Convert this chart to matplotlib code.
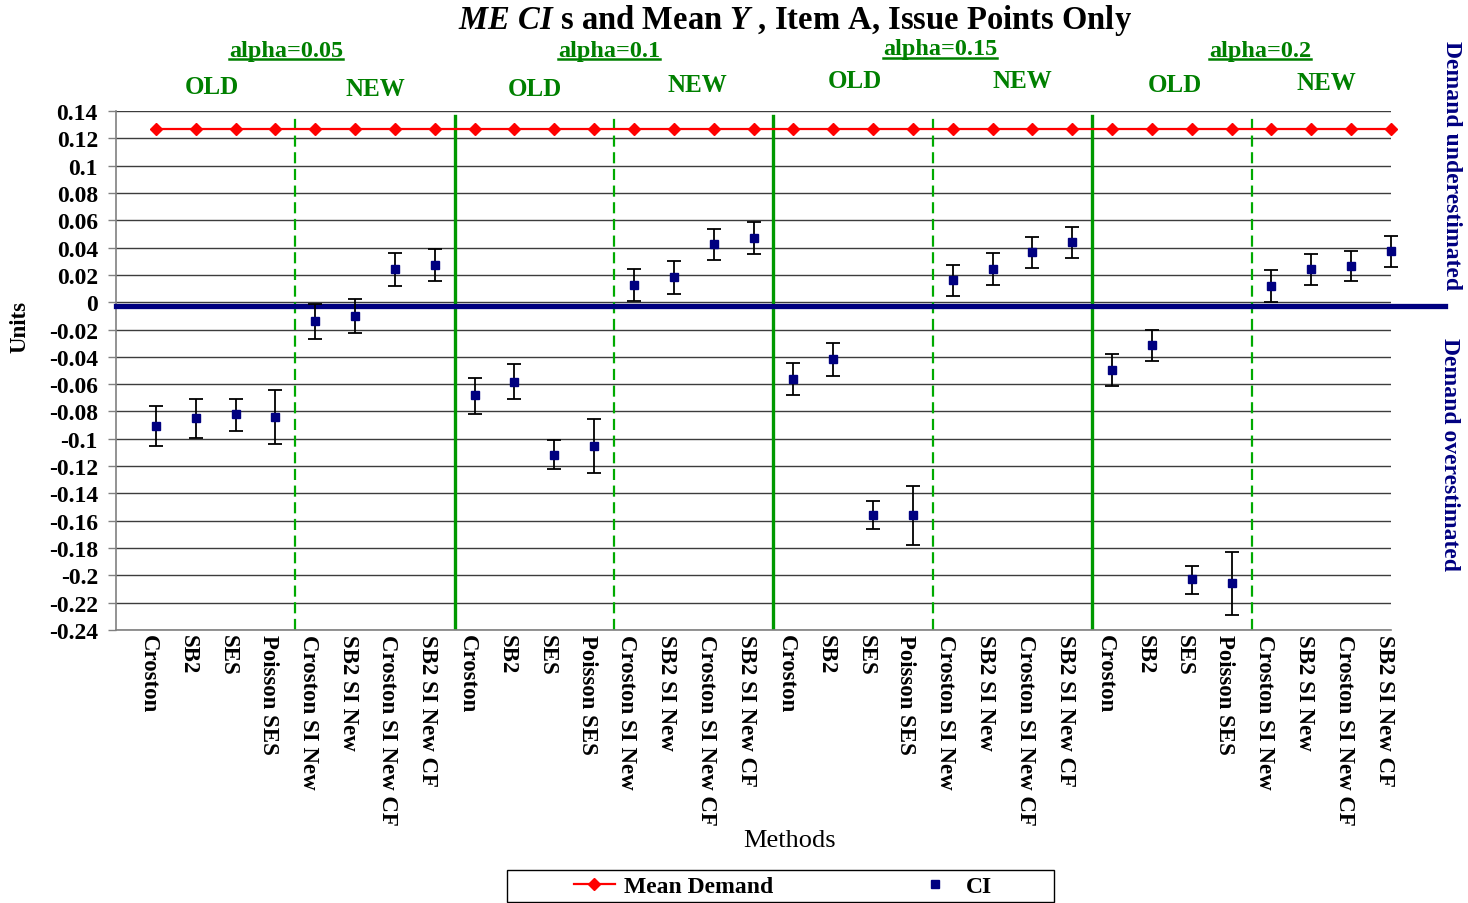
import matplotlib
matplotlib.use("Agg")
import matplotlib.pyplot as plt
from matplotlib.lines import Line2D
from matplotlib.patches import Rectangle
from matplotlib.transforms import ScaledTranslation
import numpy as np

# ---------------- data ----------------
methods = ["Croston", "SB2", "SES", "Poisson SES",
           "Croston SI New", "SB2 SI New", "Croston SI New CF", "SB2 SI New CF"] * 4
alpha_labels = ["alpha=0.05", "alpha=0.1", "alpha=0.15", "alpha=0.2"]
group_labels = ["OLD", "NEW"] * 4

mean_demand = [0.127] * 32

ci_mid = [-0.0907, -0.0851, -0.0822, -0.0839, -0.0139, -0.0102, 0.0244, 0.0273,
          -0.0683, -0.0583, -0.1117, -0.1054, 0.0127, 0.0185, 0.0427, 0.0473,
          -0.0559, -0.0417, -0.1559, -0.1556, 0.0159, 0.0246, 0.0368, 0.0441,
          -0.0495, -0.0312, -0.2029, -0.2059, 0.0120, 0.0241, 0.0266, 0.0376]
ci_low = [-0.1051, -0.0995, -0.0944, -0.1037, -0.0268, -0.0229, 0.0120, 0.0156,
          -0.0815, -0.0710, -0.1224, -0.1251, 0.0007, 0.0063, 0.0310, 0.0356,
          -0.0683, -0.0539, -0.1663, -0.1776, 0.0044, 0.0129, 0.0254, 0.0327,
          -0.0612, -0.0429, -0.2134, -0.2293, 0.0005, 0.0124, 0.0154, 0.0261]
ci_high = [-0.0763, -0.0710, -0.0707, -0.0644, -0.0010, 0.0024, 0.0360, 0.0390,
           -0.0556, -0.0456, -0.1012, -0.0856, 0.0246, 0.0305, 0.0539, 0.0585,
           -0.0444, -0.0302, -0.1456, -0.1344, 0.0273, 0.0363, 0.0480, 0.0551,
           -0.0380, -0.0200, -0.1932, -0.1827, 0.0234, 0.0354, 0.0378, 0.0485]

y_ticks = [0.14, 0.12, 0.1, 0.08, 0.06, 0.04, 0.02, 0, -0.02, -0.04, -0.06, -0.08,
           -0.1, -0.12, -0.14, -0.16, -0.18, -0.2, -0.22, -0.24]
y_tick_labels = ["0.14", "0.12", "0.1", "0.08", "0.06", "0.04", "0.02", "0",
                 "-0.02", "-0.04", "-0.06", "-0.08", "-0.1", "-0.12", "-0.14",
                 "-0.16", "-0.18", "-0.2", "-0.22", "-0.24"]

# ---------------- style ----------------
plt.rcParams["font.family"] = ["Liberation Serif", "DejaVu Serif"]
plt.rcParams["mathtext.fontset"] = "custom"
plt.rcParams["mathtext.rm"] = "Liberation Serif:bold"
plt.rcParams["mathtext.it"] = "Liberation Serif:italic:bold"
plt.rcParams["mathtext.bf"] = "Liberation Serif:bold"

W, H = 1468, 904
fig = plt.figure(figsize=(W / 100, H / 100), dpi=100)
ax = fig.add_axes([116 / W, 1 - 631 / H, (1391 - 116) / W, (631 - 112) / H])

x = np.arange(1, len(methods) + 1)
ax.set_xlim(0, len(methods))
ax.set_ylim(-0.24, 0.14)

# gridlines
ax.set_yticks(y_ticks)
ax.set_yticklabels(y_tick_labels, fontsize=17, fontweight="bold")
ax.yaxis.grid(True, color="#3c3c3c", lw=1.0)
ax.set_axisbelow(True)
ax.tick_params(axis="y", length=6, width=1, color="#808080", pad=7)

for s in ["top", "right"]:
    ax.spines[s].set_visible(False)
for s in ["left", "bottom"]:
    ax.spines[s].set_color("#808080")
    ax.spines[s].set_linewidth(1.2)

# x tick labels
ax.set_xticks(x)
ax.set_xticklabels(methods, rotation=270, fontsize=16.5, fontweight="bold")
ax.tick_params(axis="x", length=0, pad=3)
off = ScaledTranslation(-0.07, 0, fig.dpi_scale_trans)
for lab in ax.get_xticklabels():
    lab.set_transform(lab.get_transform() + off)

# group separators
n_groups = len(alpha_labels)
for g in range(n_groups):
    ax.axvline(8 * g + 4.5, ymin=0, ymax=0.9905, color="#00AA00", lw=1.6,
               linestyle=(0, (5, 2.5)), zorder=2)
    if g < n_groups - 1:
        ax.axvline(8 * g + 8.5, ymin=0, ymax=0.9905, color="#009900", lw=2.4, zorder=2)

# zero reference line (slightly below 0, extends right of the axes)
ax.axhline(-0.0025, xmin=0, xmax=1.0424, color="#000080", lw=3.8, clip_on=False, zorder=3)

# mean demand line
ax.plot(x, mean_demand, color="#FF0000", lw=1.6, marker="D", ms=6.5, zorder=4, clip_on=False)

# CI
mid = np.array(ci_mid)
lo = np.array(ci_low)
hi = np.array(ci_high)
eb = ax.errorbar(x, mid, yerr=[mid - lo, hi - mid], fmt="s", color="#000080", ms=6,
                 ecolor="black", elinewidth=1.3, capsize=5, capthick=1.3, zorder=5)
for child in eb.get_children():
    child.set_clip_on(False)

# ---------------- texts ----------------
def fx(px):
    return px / W

def fy(py):
    return 1 - py / H

fig.text(fx(795), fy(21), r"$\mathit{ME\ CI}$ s and Mean $\mathit{Y}$ , Item A, Issue Points Only",
         ha="center", va="center", fontsize=23.5, fontweight="bold")

alpha_pos = [(286, 51), (609, 51), (940, 50), (1260, 51)]
alpha_texts = []
for lab, (px, py) in zip(alpha_labels, alpha_pos):
    t = fig.text(fx(px), fy(py), lab, ha="center", va="center", fontsize=17.5,
                 fontweight="bold", color="#008000")
    alpha_texts.append(t)

grp_pos = [(212, 87), (375, 89), (535, 89), (697, 86), (855, 82), (1022, 82), (1175, 86), (1326, 83)]
for lab, (px, py) in zip(group_labels, grp_pos):
    fig.text(fx(px), fy(py), lab, ha="center", va="center", fontsize=18,
             fontweight="bold", color="#008000")

fig.text(fx(20), fy(327), "Units", rotation=90, ha="center", va="center",
         fontsize=16.5, fontweight="bold")
fig.text(fx(790), fy(841), "Methods", ha="center", va="center", fontsize=19)

fig.text(fx(1452), fy(166), "Demand underestimated", rotation=270, ha="center", va="center",
         fontsize=17, fontweight="bold", color="#000080")
fig.text(fx(1449), fy(455), "Demand overestimated", rotation=270, ha="center", va="center",
         fontsize=17, fontweight="bold", color="#000080")

# legend
fig.add_artist(Rectangle((fx(507), fy(903)), (1054 - 507) / W, (903 - 871) / H,
                         transform=fig.transFigure, fill=False, edgecolor="black", lw=1.0))
handles = [Line2D([], [], color="#FF0000", lw=1.6, marker="D", ms=6.5),
           Line2D([], [], color="#000080", lw=0, marker="s", ms=6)]
fig.legend(handles, ["Mean Demand", "CI"], loc="center", bbox_to_anchor=(fx(783), fy(887)),
           ncol=2, frameon=False, prop={"weight": "bold", "size": 17},
           handlelength=1.7, handletextpad=0.42, columnspacing=6.0, borderpad=0.1)

# underline alpha labels
fig.canvas.draw()
r = fig.canvas.get_renderer()
for t in alpha_texts:
    bb = t.get_window_extent(renderer=r)
    yy = bb.y0 + 1.5
    fig.add_artist(Line2D([bb.x0 / W, bb.x1 / W], [yy / H, yy / H],
                          transform=fig.transFigure, color="#008000", lw=1.8))

fig.savefig("out.png", dpi=100)
